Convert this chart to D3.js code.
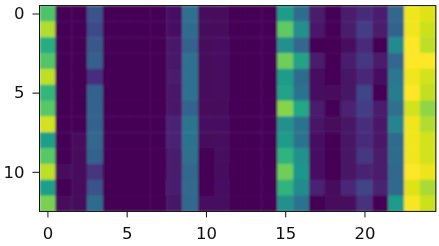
<!DOCTYPE html>
<html><head><meta charset="utf-8">
<script src="https://cdn.jsdelivr.net/npm/d3@7"></script>
<style>html,body{margin:0;padding:0;background:#fff;overflow:hidden}</style>
</head><body><div id="chart"></div>
<script>
const xTicks=[0,5,10,15,20];
const yTicks=[0,5,10];
const c0=[.72,.88,.62,.73,.9,.66,.74,.93,.56,.74,.9,.56,.8];
const c1=[.01,.01,.01,.01,.01,.01,.01,.01,.01,.01,.02,.01,.02];
const c2=[.01,.01,.01,.01,.01,.01,.01,.01,.02,.02,.02,.02,.02];
const c3=[.25,.22,.27,.3,.13,.31,.32,.31,.33,.31,.15,.25,.35];
const c4=[.01,.01,.01,.01,.01,.01,.01,.01,.01,.01,.01,.01,.01];
const c5=[.01,.01,.01,.01,.01,.01,.01,.01,.01,.01,.01,.01,.01];
const c6=[.01,.01,.01,.01,.01,.01,.01,.01,.01,.01,.01,.01,.01];
const c7=[.01,.01,.01,.01,.01,.01,.01,.01,.01,.01,.01,.01,.01];
const c8=[.04,.04,.06,.06,.07,.06,.06,.1,.1,.07,.07,.08,.05];
const c9=[.36,.35,.31,.37,.37,.37,.32,.39,.38,.36,.33,.34,.33];
const c10=[.02,.02,.02,.02,.02,.02,.02,.04,.02,.01,.01,.01,.03];
const c11=[.02,.02,.04,.04,.03,.03,.02,.04,.03,.03,.02,.04,.03];
const c12=[.01,.01,.01,.01,.01,.01,.01,.01,.01,.01,.01,.01,.01];
const c13=[.01,.01,.01,.01,.01,.01,.01,.01,.01,.01,.01,.01,.01];
const c14=[.01,.01,.01,.01,.01,.01,.01,.01,.01,.01,.01,.01,.01];
const c15=[.55,.75,.5,.78,.55,.58,.82,.5,.55,.65,.78,.65,.5];
const c16=[.35,.5,.33,.58,.35,.38,.6,.38,.38,.5,.53,.48,.38];
const c17=[.07,.06,.01,.07,.03,.03,.07,.05,.04,.04,.04,.09,.01];
const c18=[.01,.01,.01,.01,.01,.02,.01,.02,.01,.01,.01,.02,.02];
const c19=[.07,.07,.03,.08,.05,.05,.09,.05,.05,.05,.05,.11,.03];
const c20=[.12,.18,.12,.16,.11,.2,.18,.13,.12,.16,.09,.2,.14];
const c21=[.08,.07,.01,.07,.04,.01,.08,.06,.06,.07,.07,.09,.01];
const c22=[.33,.32,.48,.33,.4,.42,.36,.46,.35,.35,.33,.33,.55];
const c23=[.98,.98,1,1,.98,1,.93,.98,.98,.98,1,.95,.99];
const c24=[.95,.92,.9,1,.93,.91,.83,.88,.93,.93,.97,.87,.92];
const columns=[c0,c1,c2,c3,c4,c5,c6,c7,c8,c9,c10,c11,c12,c13,c14,c15,c16,c17,c18,c19,c20,c21,c22,c23,c24];

const L=39.5,R=435.8,T=5.6,B=211.4;
const svg=d3.select('#chart').append('svg').attr('width',439).attr('height',246).style('display','block');
const defs=svg.append('defs');
const f=defs.append('filter').attr('id','soft').attr('x',0).attr('y',0).attr('width',1).attr('height',1);
f.append('feGaussianBlur').attr('stdDeviation',0.9).attr('edgeMode','duplicate');
const t=defs.append('filter').attr('id','ink').attr('x','-5%').attr('y','-5%').attr('width','110%').attr('height','110%');
t.append('feGaussianBlur').attr('stdDeviation',0.25);
const x=d3.scaleBand().domain(d3.range(columns.length)).range([L,R]);
const y=d3.scaleBand().domain(d3.range(c0.length)).range([T,B]);
const xp=d3.scaleLinear().domain([-.5,24.5]).range([L,R]);
const yp=d3.scaleLinear().domain([-.5,12.5]).range([T,B]);
const color=d3.scaleSequential(d3.interpolateViridis).domain([0,1]);
const g=svg.append('g').attr('filter','url(#soft)');
columns.forEach((col,i)=>{
  g.selectAll(null).data(col).enter().append('rect')
   .attr('x',x(i)).attr('y',(d,j)=>y(j))
   .attr('width',x.bandwidth()+.4).attr('height',y.bandwidth()+.4)
   .attr('fill',d=>color(d));
});
const font='"DejaVu Sans",sans-serif';
const ink=svg.append('g').attr('filter','url(#ink)');
const ax=ink.append('g').attr('transform',`translate(0,${B})`)
  .call(d3.axisBottom(xp).tickValues(xTicks).tickFormat(d3.format('d')).tickSize(6).tickPadding(9.5));
const ay=ink.append('g').attr('transform',`translate(${L},0)`)
  .call(d3.axisLeft(yp).tickValues(yTicks).tickFormat(d3.format('d')).tickSize(7).tickPadding(8));
[ax,ay].forEach(a=>{
  a.selectAll('.domain').remove();
  a.selectAll('line').attr('stroke','#111').attr('stroke-width',1);
  a.selectAll('text').attr('fill','#111').style('font-family',font).style('font-size','16.5px');
});
ink.append('rect').attr('x',L).attr('y',T).attr('width',R-L).attr('height',B-T)
  .attr('fill','none').attr('stroke','#111').attr('stroke-width',1);
</script></body></html>
